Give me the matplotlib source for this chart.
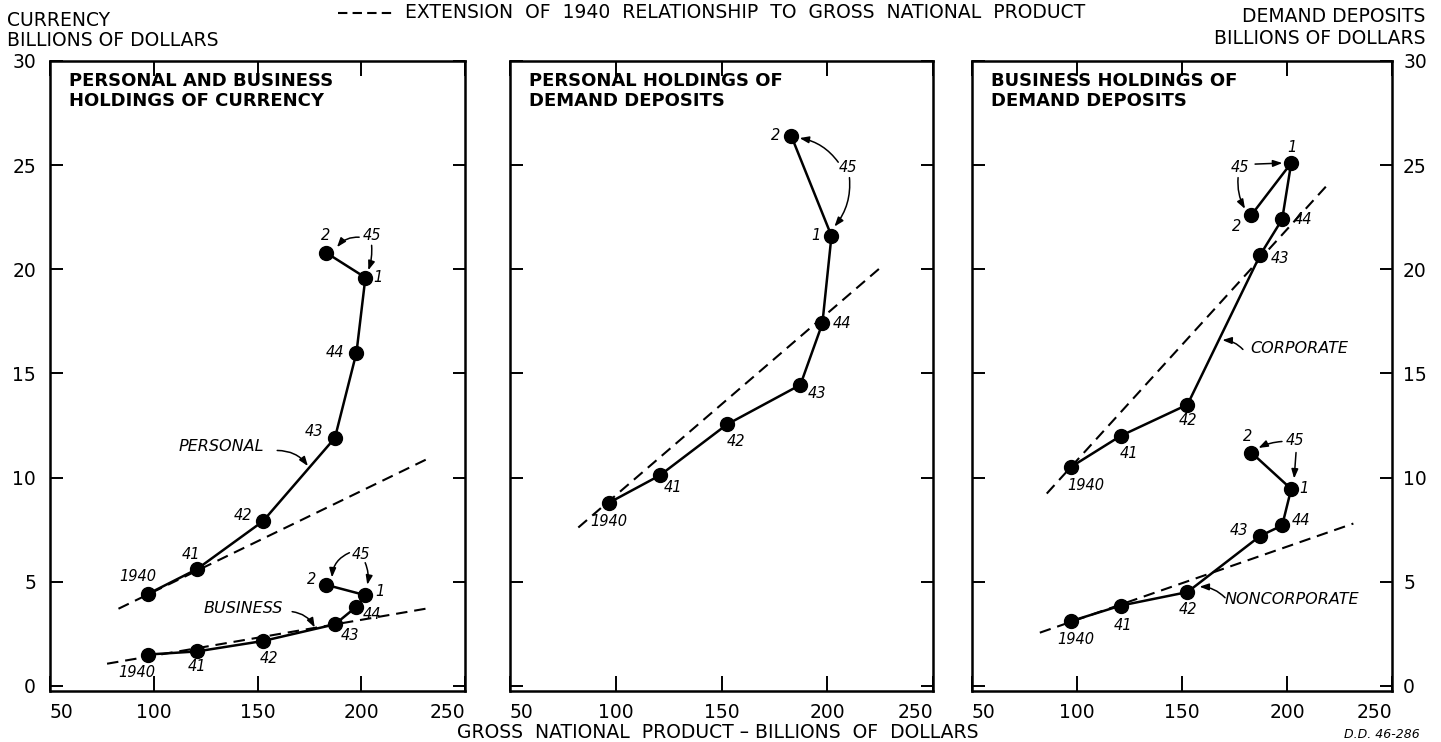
import numpy as np
import matplotlib
matplotlib.use('Agg')
import matplotlib.pyplot as plt
from matplotlib.lines import Line2D

# gross national product (billions) for 1940..1944, then 1945 half-years 1 and 2
gnp = [97.0, 120.8, 152.6, 187.3, 197.7, 202.0, 183.0]
point_names = ['1940', '41', '42', '43', '44', '1', '2']

# currency holdings
personal_cur = [4.4, 5.6, 7.9, 11.9, 16.0, 19.6, 20.8]
business_cur = [1.5, 1.65, 2.15, 2.95, 3.8, 4.35, 4.85]
# demand deposits
personal_dep = [8.8, 10.1, 12.55, 14.45, 17.4, 21.6, 26.4]
corporate_dep = [10.5, 12.0, 13.5, 20.7, 22.4, 25.1, 22.6]
noncorp_dep = [3.1, 3.85, 4.5, 7.2, 7.7, 9.45, 11.2]

# extension of 1940 relationship (end points)
ext_personal_cur = ([83.0, 232.0], [3.7, 10.9])
ext_business_cur = ([77.5, 231.0], [1.06, 3.7])
ext_personal_dep = ([82.3, 225.4], [7.6, 20.1])
ext_corporate = ([85.6, 220.6], [9.23, 24.2])
ext_noncorp = ([82.3, 231.6], [2.55, 7.79])

# label offsets (pixels) for each point
off_personal_cur = [(-10, 18), (-6, 15), (-20, 6), (-21, 6), (-21, 0), (13, 0), (0, 17)]
off_business_cur = [(-11, -18), (0, -15), (6, -17), (15, -11), (16, -8), (15, 4), (-14, 5)]
off_personal_dep = [(-1, -19), (13, -12), (9, -17), (17, -9), (20, 0), (-16, 0), (-16, 0)]
off_corporate = [(15, -18), (8, -18), (1, -16), (20, -4), (21, 0), (1, 16), (-15, -11)]
off_noncorp = [(5, -18), (2, -20), (1, -17), (-21, 5), (19, 5), (13, 0), (-4, 16)]

LW = 1.8
FS = 13.5
DASH = dict(color='black', lw=1.5, dashes=(5.5, 3.3))
ARROW = dict(arrowstyle='-|>,head_length=0.55,head_width=0.2', color='black', lw=1.1,
             shrinkA=0, shrinkB=0)

fig = plt.figure(figsize=(14.41, 7.42), dpi=100)
bot, h = 1 - 691 / 742, (691 - 61) / 742
ax1 = fig.add_axes([50 / 1441, bot, 415 / 1441, h])
ax2 = fig.add_axes([510 / 1441, bot, 423 / 1441, h])
ax3 = fig.add_axes([972 / 1441, bot, 420 / 1441, h])


def series(ax, y, offs):
    ax.plot(gnp, y, color='black', lw=LW, marker='o', markersize=10, zorder=3)
    for xv, yv, name, (dx, dy) in zip(gnp, y, point_names, offs):
        ax.annotate(name, (xv, yv), xytext=(dx, dy), textcoords='offset pixels',
                    ha='center', va='center', fontsize=10.5, fontstyle='italic')


def arrow(ax, start, end, rad=0.0):
    ax.annotate('', xy=end, xytext=start,
                arrowprops=dict(connectionstyle='arc3,rad=%s' % rad, **ARROW))


def label(ax, txt, xy, size=10.5):
    ax.text(xy[0], xy[1], txt, ha='center', va='center', fontsize=size, fontstyle='italic')


for ax in (ax1, ax2, ax3):
    ax.set_xlim(50, 250)
    ax.set_ylim(-0.25, 30)
    for s in ax.spines.values():
        s.set_linewidth(1.8)
    ax.set_xticks([50, 100, 150, 200, 250], ['50', '100', '150', '200', '250'])
    ax.set_yticks([0, 5, 10, 15, 20, 25, 30])
    ax.tick_params(axis='x', direction='in', length=11, width=1.4, top=True,
                   labelsize=FS, pad=9)
    ax.tick_params(axis='y', direction='in', length=9, width=1.4, left=True, right=True,
                   labelsize=FS)
    xl = ax.get_xticklabels()
    xl[0].set_ha('left')
    xl[-1].set_ha('right')

ax1.tick_params(axis='y', labelleft=True, labelright=False, pad=10)
ax2.tick_params(axis='y', labelleft=False, labelright=False)
ax3.tick_params(axis='y', labelleft=False, labelright=True, pad=8)

titles = [(ax1, 'PERSONAL AND BUSINESS\nHOLDINGS OF CURRENCY'),
          (ax2, 'PERSONAL HOLDINGS OF\nDEMAND DEPOSITS'),
          (ax3, 'BUSINESS HOLDINGS OF\nDEMAND DEPOSITS')]
for ax, t in titles:
    ax.text(0.045, 0.982, t, transform=ax.transAxes, ha='left', va='top',
            fontsize=13, fontweight='bold', linespacing=1.12)

# panel 1: currency
ax1.plot(*ext_personal_cur, **DASH)
ax1.plot(*ext_business_cur, **DASH)
series(ax1, personal_cur, off_personal_cur)
series(ax1, business_cur, off_business_cur)
label(ax1, '45', (205.3, 21.6))
arrow(ax1, (199.0, 21.54), (188.3, 21.06), rad=0.25)
arrow(ax1, (205.0, 21.15), (203.4, 19.95), rad=-0.1)
label(ax1, '45', (200.0, 6.3))
arrow(ax1, (194.3, 6.39), (185.9, 5.2), rad=0.3)
arrow(ax1, (201.9, 5.91), (202.9, 4.85), rad=-0.15)
label(ax1, 'PERSONAL', (132.5, 11.5), 11.5)
arrow(ax1, (159.5, 11.3), (174.3, 10.55), rad=-0.25)
label(ax1, 'BUSINESS', (143.0, 3.7), 11.5)
arrow(ax1, (166.7, 3.56), (177.6, 2.8), rad=-0.25)

# panel 2: personal deposits
ax2.plot(*ext_personal_dep, **DASH)
series(ax2, personal_dep, off_personal_dep)
label(ax2, '45', (210.0, 24.9))
arrow(ax2, (205.2, 25.14), (186.9, 26.3), rad=0.2)
arrow(ax2, (210.5, 24.4), (203.4, 22.05), rad=-0.2)

# panel 3: business deposits
ax3.plot(*ext_corporate, **DASH)
ax3.plot(*ext_noncorp, **DASH)
series(ax3, corporate_dep, off_corporate)
series(ax3, noncorp_dep, off_noncorp)
label(ax3, '45', (177.6, 24.9))
arrow(ax3, (184.8, 25.05), (197.8, 25.1))
arrow(ax3, (176.7, 24.4), (180.0, 22.9), rad=0.15)
label(ax3, '45', (203.8, 11.8))
arrow(ax3, (197.6, 11.73), (186.4, 11.42), rad=0.1)
arrow(ax3, (204.3, 11.2), (203.4, 9.95))
label(ax3, 'CORPORATE', (205.7, 16.2), 11.5)
arrow(ax3, (179.0, 16.15), (169.2, 16.6), rad=0.2)
label(ax3, 'NONCORPORATE', (202.4, 4.13), 11.5)
arrow(ax3, (170.5, 4.23), (158.3, 4.76), rad=0.2)

# figure texts
fig.text(7 / 1441, 1 - 21 / 742, 'CURRENCY', ha='left', va='center', fontsize=FS)
fig.text(7 / 1441, 1 - 41 / 742, 'BILLIONS OF DOLLARS', ha='left', va='center', fontsize=FS)
fig.text(1425 / 1441, 1 - 16 / 742, 'DEMAND DEPOSITS', ha='right', va='center', fontsize=FS)
fig.text(1425 / 1441, 1 - 38 / 742, 'BILLIONS OF DOLLARS', ha='right', va='center', fontsize=FS)
fig.add_artist(Line2D([338 / 1441, 396 / 1441], [1 - 13 / 742, 1 - 13 / 742],
                      transform=fig.transFigure, color='black', lw=1.5, dashes=(4.5, 2.5)))
fig.text(405 / 1441, 1 - 13 / 742,
         'EXTENSION  OF  1940  RELATIONSHIP  TO  GROSS  NATIONAL  PRODUCT',
         ha='left', va='center', fontsize=FS)
fig.text(718 / 1441, 1 - 732 / 742, 'GROSS  NATIONAL  PRODUCT \u2013 BILLIONS  OF  DOLLARS',
         ha='center', va='center', fontsize=FS)
fig.text(1420 / 1441, 1 - 734 / 742, 'D.D. 46-286', ha='right', va='center',
         fontsize=9, fontstyle='italic')

fig.savefig('out.png', dpi=100)
